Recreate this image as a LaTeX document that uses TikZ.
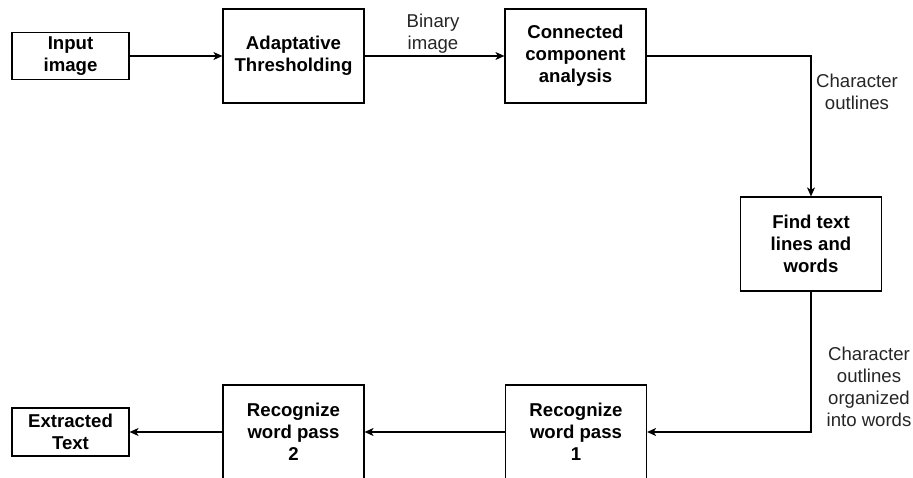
\documentclass[tikz,border=0pt]{standalone}
\usepackage{fontspec}
\setmainfont{Liberation Sans}
\usetikzlibrary{arrows.meta}
\begin{document}
\begin{tikzpicture}[x=1pt,y=-1pt,
  box/.style={draw=black, line width=1.2pt, fill=white, inner sep=0pt,
    align=center, font=\fontsize{18.6}{22}\selectfont\bfseries},
  smallbox/.style={box, minimum width=117pt, minimum height=47pt},
  bigbox/.style={box, minimum width=141pt, minimum height=94pt},
  flow/.style={draw=black, line width=1.2pt,
    -{Stealth[length=9pt,width=8pt,inset=2.5pt]}},
  lbl/.style={inner sep=0pt, align=center, text=black!85,
    font=\fontsize{18.6}{22}\selectfont}]
\useasboundingbox (0,0) rectangle (913,478);
\fill[white] (0,0) rectangle (913,478);

% top row
\node[smallbox] (input) at (70.5,56) {Input\\image};
\node[bigbox] (thresh) at (293.5,56) {Adaptative\\Thresholding};
\node[bigbox] (cca) at (575.5,56) {Connected\\component\\analysis};

% right column
\node[bigbox] (lines) at (811,244) {Find text\\lines and\\words};

% bottom row
\node[bigbox] (rec1) at (576,432) {Recognize\\word pass\\1};
\node[bigbox] (rec2) at (293.5,432) {Recognize\\word pass\\2};
\node[smallbox, minimum height=48pt] (out) at (70.5,432) {Extracted\\Text};

% connectors
\draw[flow] (input.east) -- (thresh.west);
\draw[flow] (thresh.east) -- (cca.west);
\draw[flow] (cca.east) -| (lines.north);
\draw[flow] (lines.south) |- (rec1.east);
\draw[flow] (rec1.west) -- (rec2.east);
\draw[flow] (rec2.west) -- (out.east);

% edge labels
\node[lbl] (l1) at (433,34) {Binary\\image};
\node[lbl] (l2) at (857,92) {Character\\outlines};
\node[lbl] (l3) at (869,386.5) {Character\\outlines\\organized\\into words};
\end{tikzpicture}
\end{document}
